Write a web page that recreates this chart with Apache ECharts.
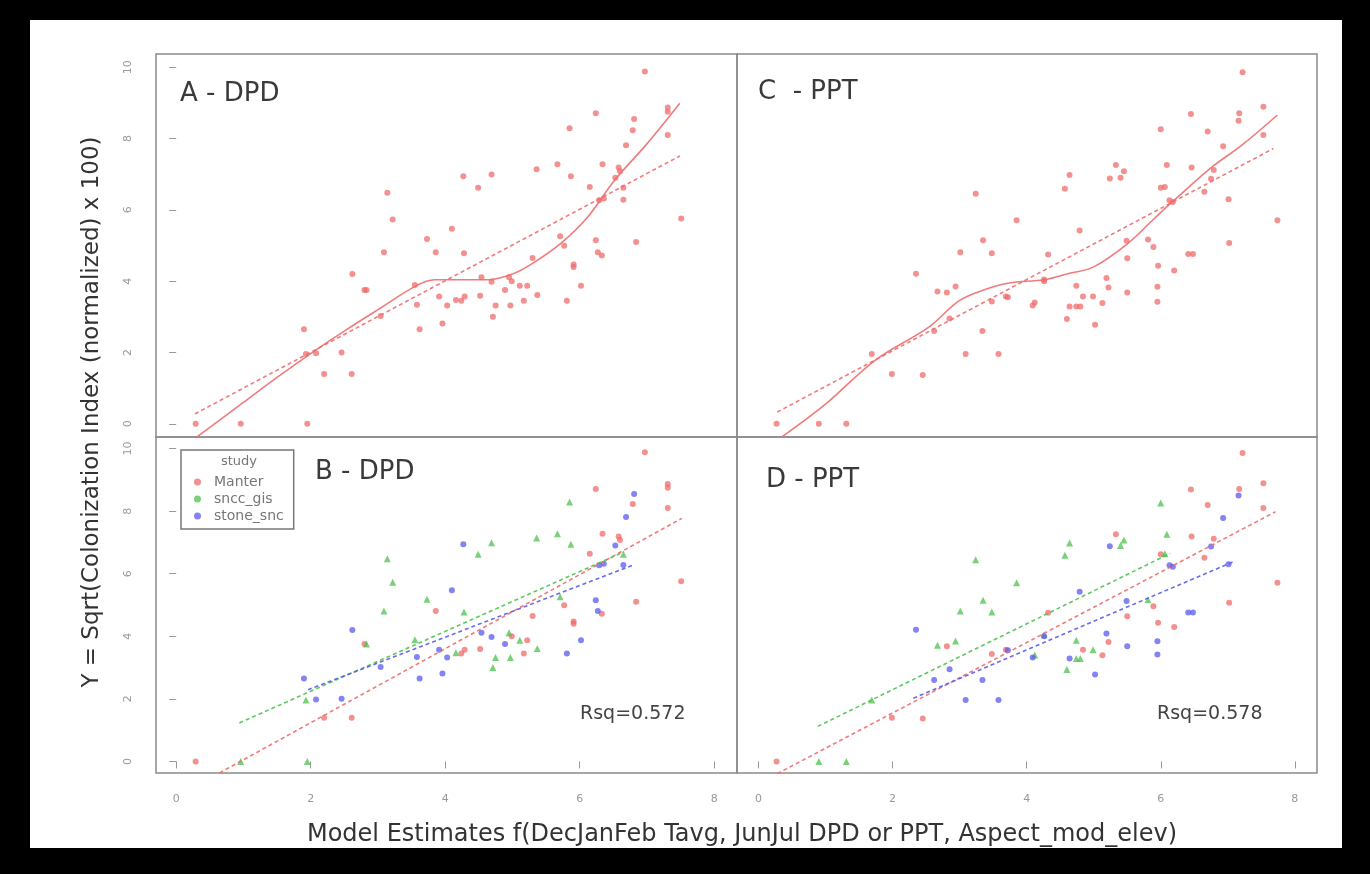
<!DOCTYPE html>
<html><head><meta charset="utf-8">
<script src="https://cdn.jsdelivr.net/npm/echarts@6/dist/echarts.min.js"></script>
<style>
html,body{margin:0;padding:0;background:#000;overflow:hidden;}
#bg{position:absolute;left:30px;top:20px;width:1312px;height:828px;background:#fff;}
#c{position:absolute;left:0;top:0;width:1370px;height:874px;}
</style>
</head><body><div id="bg"></div><div id="c"></div>
<script>
// ---------- data ----------
const xTicks = [0, 2, 4, 6, 8];
const yTicks = [0, 2, 4, 6, 8, 10];
const studies = ['Manter', 'sncc_gis', 'stone_snc'];

// DPD model estimates vs Y, by study
const dpdManter = [[0.29,0],[2.2,1.4],[2.61,1.4],[2.8,3.75],[3.86,4.81],[4.29,3.57],[4.24,3.45],[4.52,3.59],[4.99,4.0],[5.22,3.87],[5.17,3.45],[5.3,4.65],[6.97,9.88],[6.24,8.71],[7.31,8.87],[7.31,8.75],[6.79,8.23],[7.31,8.1],[6.34,7.28],[6.58,7.19],[6.6,7.08],[6.15,6.64],[7.51,5.76],[5.77,4.99],[6.33,4.72],[6.84,5.1],[5.91,4.4],[5.91,4.47]];
const dpdSncc = [[0.96,0],[1.95,0],[1.93,1.96],[2.83,3.75],[3.14,6.48],[3.22,5.73],[3.09,4.81],[3.55,3.89],[3.73,5.18],[4.16,3.47],[4.28,4.78],[4.49,6.62],[4.69,6.99],[4.71,3.0],[4.75,3.32],[4.95,4.11],[4.97,3.32],[5.11,3.87],[5.37,3.61],[5.36,7.14],[5.85,8.29],[5.67,7.28],[5.87,6.94],[6.65,6.62],[5.71,5.26]];
const dpdStone = [[1.90,2.65],[2.08,1.98],[2.46,2.0],[2.62,4.2],[3.04,3.02],[3.58,3.34],[3.62,2.65],[3.91,3.57],[3.96,2.81],[4.03,3.32],[4.10,5.47],[4.27,6.94],[4.54,4.11],[4.69,3.98],[4.89,3.75],[6.81,8.55],[6.69,7.81],[6.53,6.9],[6.29,6.27],[6.36,6.32],[6.65,6.28],[6.24,5.15],[6.27,4.81],[6.02,3.87],[5.81,3.45]];

// PPT model estimates vs Y, by study
const pptManter = [[0.27,0],[1.99,1.4],[2.45,1.37],[2.81,3.68],[3.48,3.43],[3.69,3.57],[4.32,4.75],[4.84,3.57],[5.13,3.39],[5.22,3.82],[5.33,7.26],[5.5,4.64],[7.22,9.86],[6.45,8.69],[7.53,8.89],[7.17,8.71],[6.7,8.2],[7.53,8.1],[6.46,7.19],[6.79,7.12],[6.0,6.62],[6.65,6.51],[7.74,5.71],[5.89,4.96],[7.02,5.07],[5.96,4.43],[6.2,4.3]];
const pptSncc = [[0.9,0],[1.31,0],[1.69,1.96],[2.67,3.71],[2.94,3.85],[3.01,4.81],[3.35,5.15],[3.48,4.78],[3.24,6.45],[3.85,5.71],[4.12,3.4],[4.26,4.05],[4.57,6.59],[4.64,6.98],[4.74,3.87],[4.74,3.29],[4.8,3.29],[4.6,2.94],[4.99,3.57],[5.40,6.9],[5.45,7.08],[6.0,8.26],[6.09,7.26],[6.06,6.64],[5.81,5.17]];
const pptStone = [[2.35,4.21],[2.62,2.6],[2.85,2.95],[3.09,1.96],[3.58,1.96],[3.34,2.6],[3.72,3.55],[4.09,3.32],[4.26,4.0],[4.79,5.42],[4.64,3.29],[5.02,2.78],[5.19,4.09],[5.24,6.88],[5.49,5.13],[5.5,3.68],[7.16,8.5],[6.93,7.78],[6.75,6.87],[6.13,6.27],[6.18,6.22],[7.01,6.3],[6.41,4.76],[6.48,4.76],[5.95,3.84],[5.95,3.42]];

// smoothers
const loessDpdX = [0.30,1.0,1.5,2.0,2.5,3.0,3.56,3.84,4.2,4.64,5.0,5.3,5.72,6.12,6.52,7.0,7.49];
const loessDpdY = [-0.38,0.6,1.3,1.97,2.6,3.2,3.86,4.04,4.04,4.04,4.2,4.5,5.06,5.8,6.83,7.85,8.99];
const loessPptX = [0.34,1.0,1.74,2.54,3.0,3.4,3.74,4.26,4.6,5.0,5.51,5.9,6.2,6.77,7.2,7.74];
const loessPptY = [-0.38,0.55,1.78,2.71,3.46,3.78,3.95,4.04,4.2,4.4,5.06,5.75,6.27,7.21,7.8,8.66];

// linear fits (endpoints)
const fitDpdAll = [[0.28,0.28],[7.49,7.51]];
const fitPptAll = [[0.28,0.33],[7.68,7.72]];
const fitDpdManter = [[0.28,-0.8],[7.52,7.77]];
const fitDpdSncc = [[0.94,1.23],[6.66,6.70]];
const fitDpdStone = [[1.96,2.29],[6.8,6.28]];
const fitPptManter = [[0.28,-0.39],[7.71,7.98]];
const fitPptSncc = [[0.885,1.12],[6.14,6.65]];
const fitPptStone = [[2.31,2.02],[7.08,6.38]];

const rsqText = ['Rsq=0.572', 'Rsq=0.578'];
const panelLabels = ['A - DPD', 'C  - PPT', 'B - DPD', 'D - PPT'];

// ---------- styles ----------
const RED = '#ef6b6b', GREEN = '#4cc24c', BLUE = '#5a5aee';
const FONT = 'DejaVu Sans';
const zip = (xs, ys) => xs.map((x, i) => [x, ys[i]]);

const gridRects = [
  {left:156, top:54, width:581, height:383},   // A
  {left:737, top:54, width:580, height:383},   // C
  {left:156, top:437, width:581, height:336},  // B
  {left:737, top:437, width:580, height:336}   // D
];

const grids = gridRects.map(r => Object.assign({show:true, borderColor:'#8a8a8a', borderWidth:1.5, backgroundColor:'transparent'}, r));

const xAxes = [0,1,2,3].map(i => ({
  gridIndex:i, type:'value', min: i%2===0 ? -0.30 : -0.32, max: i%2===0 ? 8.34 : 8.33,
  axisLine:{show:false}, splitLine:{show:false},
  axisTick:{show: i>=2, length:7, customValues:xTicks, lineStyle:{color:'#999', width:1}},
  axisLabel:{show: i>=2, customValues:xTicks, color:'#999', fontSize:11, fontFamily:FONT, margin:21}
}));
const yAxes = [0,1,2,3].map(i => ({
  gridIndex:i, type:'value', min:-0.37, max:10.37,
  axisLine:{show:false}, splitLine:{show:false},
  axisTick:{show: i%2===0, length:7, customValues:yTicks, lineStyle:{color:'#999', width:1}},
  axisLabel:{show: i%2===0, customValues:yTicks, color:'#999', fontSize:11, fontFamily:FONT, margin:22, rotate:90}
}));

function scat(name, data, gi, color, symbol, size) {
  return {name, type:'scatter', xAxisIndex:gi, yAxisIndex:gi, data, symbol, symbolSize:size,
    itemStyle:{color, opacity:0.75}, z:3, silent:true};
}
function line(name, data, gi, color, dashed, smooth) {
  return {name, type:'line', xAxisIndex:gi, yAxisIndex:gi, data, showSymbol:false, symbol:'none',
    smooth: smooth ? 0.35 : false, clip:true, silent:true,
    lineStyle:{color, width:1.6, type: dashed ? [4,3] : 'solid', opacity:0.9}, z:4};
}

const series = [
  // A
  scat('allDpd', dpdManter.concat(dpdSncc, dpdStone), 0, RED, 'circle', 6),
  line('fitA', fitDpdAll, 0, RED, true),
  line('loessA', zip(loessDpdX, loessDpdY), 0, RED, false, true),
  // C
  scat('allPpt', pptManter.concat(pptSncc, pptStone), 1, RED, 'circle', 6),
  line('fitC', fitPptAll, 1, RED, true),
  line('loessC', zip(loessPptX, loessPptY), 1, RED, false, true),
  // B
  scat(studies[0], dpdManter, 2, RED, 'circle', 6),
  scat(studies[1], dpdSncc, 2, GREEN, 'triangle', 7),
  scat(studies[2], dpdStone, 2, BLUE, 'circle', 6),
  line('fitB0', fitDpdManter, 2, RED, true),
  line('fitB1', fitDpdSncc, 2, GREEN, true),
  line('fitB2', fitDpdStone, 2, BLUE, true),
  // D
  scat(studies[0], pptManter, 3, RED, 'circle', 6),
  scat(studies[1], pptSncc, 3, GREEN, 'triangle', 7),
  scat(studies[2], pptStone, 3, BLUE, 'circle', 6),
  line('fitD0', fitPptManter, 3, RED, true),
  line('fitD1', fitPptSncc, 3, GREEN, true),
  line('fitD2', fitPptStone, 3, BLUE, true)
];

function txt(x, y, text, size, color, align, rot) {
  return {type:'text', x, y, rotation: rot || 0, silent:true, z:10,
    style:{text, font: size + 'px "' + FONT + '"', fill:color, align: align || 'left', verticalAlign:'middle',
      textAlign: align || 'left', textVerticalAlign:'middle'}};
}

const option = {
  backgroundColor:'transparent',
  animation:false,
  grid: grids, xAxis: xAxes, yAxis: yAxes, series,
  legend: {
    data: studies.map(n => ({name:n, icon:'circle'})),
    orient:'vertical', left:181, top:450, itemWidth:7, itemHeight:7, itemGap:3,
    padding:[25, 10, 6, 13], borderColor:'#777', borderWidth:1.5, backgroundColor:'#fff',
    textStyle:{fontFamily:FONT, fontSize:14, color:'#777', padding:[0,0,0,8]}, selectedMode:false
  },
  graphic: [
    txt(180, 94, panelLabels[0], 26, '#3a3a3a'),
    txt(758, 92, panelLabels[1], 26, '#3a3a3a'),
    txt(315, 472, panelLabels[2], 26, '#3a3a3a'),
    txt(766, 480, panelLabels[3], 26, '#3a3a3a'),
    txt(580, 714, rsqText[0], 19, '#444'),
    txt(1157, 714, rsqText[1], 19, '#444'),
    txt(239, 462, 'study', 13, '#777', 'center'),
    txt(742, 835, 'Model Estimates f(DecJanFeb Tavg, JunJul DPD or PPT, Aspect_mod_elev)', 24, '#333', 'center'),
    txt(92, 412, 'Y = Sqrt(Colonization Index (normalized) x 100)', 23, '#333', 'center', Math.PI/2)
  ]
};

const chart = echarts.init(document.getElementById('c'), null, {renderer:'canvas'});
chart.setOption(option);
</script>
</body></html>
